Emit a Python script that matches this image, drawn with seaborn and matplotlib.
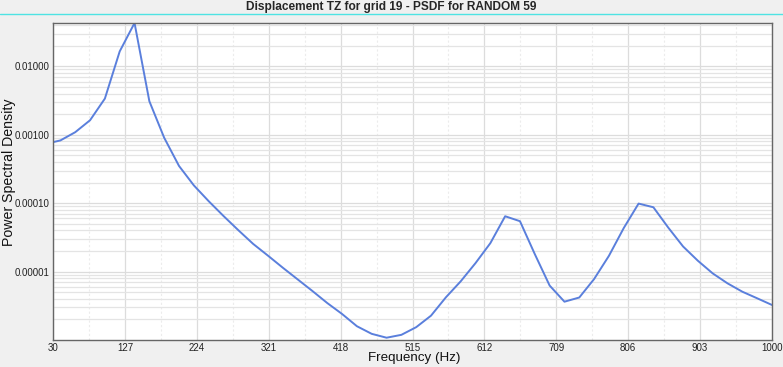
import matplotlib
matplotlib.use("Agg")
import matplotlib.pyplot as plt
from matplotlib.lines import Line2D
from matplotlib.ticker import FixedLocator, NullFormatter, FuncFormatter
import pandas as pd
import seaborn as sns

# PSD of displacement TZ at grid 19
freq = [30, 40, 60, 80, 100, 120, 140, 160, 180, 200,
        220, 240, 260, 280, 300, 320, 340, 360, 380, 400,
        420, 440, 460, 480, 500, 520, 540, 560, 580, 600,
        620, 640, 660, 680, 700, 720, 740, 760, 780, 800,
        820, 840, 860, 880, 900, 920, 940, 960, 980, 1000]
psd = [7.8e-4, 8.26e-4, 1.09e-3, 1.63e-3, 3.38e-3, 1.655e-2, 4.3e-2, 3.09e-3, 9.04e-4, 3.5e-4,
       1.82e-4, 1.07e-4, 6.5e-5, 4.03e-5, 2.54e-5, 1.71e-5, 1.14e-5, 7.7e-6, 5.2e-6, 3.47e-6,
       2.40e-6, 1.59e-6, 1.23e-6, 1.08e-6, 1.19e-6, 1.54e-6, 2.27e-6, 4.2e-6, 7.2e-6, 1.33e-5,
       2.60e-5, 6.44e-5, 5.45e-5, 1.80e-5, 6.25e-6, 3.63e-6, 4.18e-6, 7.78e-6, 1.70e-5, 4.33e-5,
       9.86e-5, 8.71e-5, 4.40e-5, 2.33e-5, 1.44e-5, 9.41e-6, 6.73e-6, 5.08e-6, 4.07e-6, 3.25e-6]

xticks = [30, 127, 224, 321, 418, 515, 612, 709, 806, 903, 1000]
yticks = [1e-5, 1e-4, 1e-3, 1e-2]

title = "Displacement TZ for grid 19 - PSDF for RANDOM 59"


def main():
    sns.set_style("white")
    plt.rcParams["font.family"] = ["Liberation Sans", "DejaVu Sans"]

    df = pd.DataFrame({"freq": freq, "psd": psd})

    fig = plt.figure(figsize=(7.83, 3.67), dpi=100, facecolor="#f0f0f0")
    ax = fig.add_axes([53 / 783, 1 - 340 / 367, 719 / 783, 317 / 367])
    ax.set_facecolor("white")

    sns.lineplot(data=df, x="freq", y="psd", ax=ax, color="#5a7fdc", linewidth=1.4)

    ax.set_yscale("log")
    ax.set_xlim(30, 1000)
    ax.set_ylim(1e-6, max(psd))

    ax.xaxis.set_major_locator(FixedLocator(xticks))
    ax.xaxis.set_minor_locator(FixedLocator([t + 48.5 for t in xticks[:-1]]))
    ax.yaxis.set_major_locator(FixedLocator(yticks))
    minor_y = [m * 10.0 ** e for e in range(-6, -1) for m in range(2, 10)]
    ax.yaxis.set_minor_locator(FixedLocator(minor_y))
    ax.yaxis.set_major_formatter(FuncFormatter(lambda v, p: f"{v:.5f}"))
    ax.yaxis.set_minor_formatter(NullFormatter())

    ax.grid(which="major", axis="both", color="#dcdcdc", linewidth=0.9)
    ax.grid(which="minor", axis="y", color="#e4e4e4", linewidth=0.9)
    ax.grid(which="minor", axis="x", color="#ececec", linewidth=0.8, linestyle=(0, (2, 2)))
    ax.set_axisbelow(True)

    ax.tick_params(which="both", length=0, labelsize=7, pad=2.5, colors="#222222")
    for s in ax.spines.values():
        s.set_color("#666666")
        s.set_linewidth(1.0)

    ax.set_xlabel("")
    ax.set_ylabel("")
    fig.text(414 / 783, 1 - 358.5 / 367, "Frequency (Hz)", ha="center", va="center",
             fontsize=9.6, color="#111111")
    fig.text(9 / 783, 1 - 172 / 367, "Power Spectral Density", ha="center", va="center",
             rotation=90, fontsize=10.2, color="#111111")

    fig.text(0.5, 1 - 7 / 367, title, ha="center", va="center", fontsize=8.6,
             fontweight="bold")
    fig.add_artist(Line2D([0, 1], [1 - 14 / 367, 1 - 14 / 367], color="#4fe3e3",
                          linewidth=1.0, transform=fig.transFigure))

    fig.savefig("out.png", dpi=100, facecolor=fig.get_facecolor())


if __name__ == "__main__":
    main()
